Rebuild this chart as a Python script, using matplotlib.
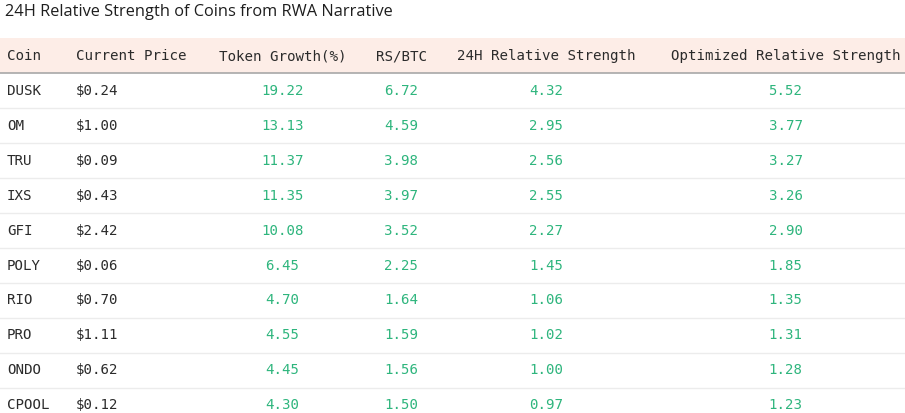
import matplotlib
matplotlib.use("Agg")
import matplotlib.pyplot as plt

title = "24H Relative Strength of Coins from RWA Narrative"
headers = ["Coin", "Current Price", "Token Growth(%)", "RS/BTC",
           "24H Relative Strength", "Optimized Relative Strength"]
coins = ["DUSK", "OM", "TRU", "IXS", "GFI", "POLY", "RIO", "PRO", "ONDO", "CPOOL"]
prices = ["$0.24", "$1.00", "$0.09", "$0.43", "$2.42", "$0.06", "$0.70", "$1.11", "$0.62", "$0.12"]
token_growth = [19.22, 13.13, 11.37, 11.35, 10.08, 6.45, 4.70, 4.55, 4.45, 4.30]
rs_btc = [6.72, 4.59, 3.98, 3.97, 3.52, 2.25, 1.64, 1.59, 1.56, 1.50]
rs_24h = [4.32, 2.95, 2.56, 2.55, 2.27, 1.45, 1.06, 1.02, 1.00, 0.97]
rs_opt = [5.52, 3.77, 3.27, 3.26, 2.90, 1.85, 1.35, 1.31, 1.28, 1.23]

W, H = 905, 413
fig = plt.figure(figsize=(W / 100, H / 100), dpi=100)
ax = fig.add_axes([0, 0, 1, 1])
ax.set_xlim(0, W)
ax.set_ylim(H, 0)
ax.axis("off")

mono = ["DejaVu Sans Mono"]
fs = 10.15
dark = "#2b2b2b"
green = "#2eb57d"

# title
ax.text(5, 12, title, fontsize=11.75, family=["Open Sans", "DejaVu Sans"],
        color="#1e1e1e", va="center", ha="left")

# header band
ax.add_patch(plt.Rectangle((0, 38), W, 35, facecolor="#fdede7", edgecolor="none"))
ax.plot([0, W], [73, 73], color="#a8a8a8", lw=1.2)

header_y = 56
col_x = [7, 76, 282.5, 401, 546, 785.5]
col_ha = ["left", "left", "center", "center", "center", "center"]
for h, x, ha in zip(headers, col_x, col_ha):
    ax.text(x, header_y, h, fontsize=fs, family=mono, color=dark, ha=ha, va="center")

row0 = 91
step = 34.9
num_cols = [token_growth, rs_btc, rs_24h, rs_opt]
for i, coin in enumerate(coins):
    y = row0 + i * step
    ax.text(col_x[0], y, coin, fontsize=fs, family=mono, color=dark, ha="left", va="center")
    ax.text(col_x[1], y, prices[i], fontsize=fs, family=mono, color=dark, ha="left", va="center")
    for vals, x in zip(num_cols, col_x[2:]):
        ax.text(x, y, f"{vals[i]:.2f}", fontsize=fs, family=mono, color=green,
                ha="center", va="center")
    if i < len(coins) - 1:
        ax.plot([0, W], [y + step / 2, y + step / 2], color="#ececec", lw=1.0)

fig.savefig("out.png", dpi=100)
